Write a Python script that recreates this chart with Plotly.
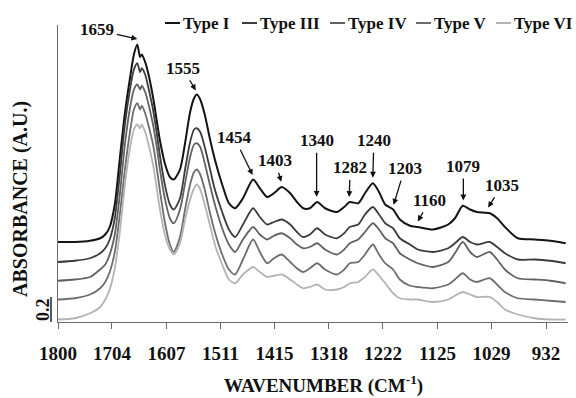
import numpy as np
import plotly.graph_objects as go

# ---------------- data ----------------
wavenumber = [1800, 1770, 1743, 1725, 1716, 1708, 1699, 1690, 1681, 1672,
              1665, 1659, 1654, 1651, 1645, 1640, 1631, 1624, 1619, 1610,
              1601, 1594, 1583, 1574, 1565, 1558, 1553, 1547, 1539, 1530,
              1521, 1508, 1496, 1485, 1471, 1453, 1441, 1428, 1416, 1402,
              1387, 1375, 1364, 1352, 1339, 1325, 1304, 1291, 1281, 1266,
              1254, 1240, 1229, 1218, 1204, 1192, 1174, 1160, 1133, 1106,
              1094, 1080, 1067, 1055, 1032, 1019, 1005, 982, 952, 925,
              897]

type_i = [0.64, 0.64, 0.65, 0.67, 0.70, 0.76, 0.94, 1.31, 1.67, 1.95,
          2.14, 2.22, 2.12, 2.14, 2.08, 2.00, 1.80, 1.60, 1.46, 1.27,
          1.16, 1.14, 1.22, 1.43, 1.68, 1.79, 1.82, 1.78, 1.66, 1.47,
          1.30, 1.10, 0.95, 0.91, 0.99, 1.14, 1.07, 1.00, 1.03, 1.08,
          1.03, 0.96, 0.91, 0.91, 0.96, 0.91, 0.88, 0.92, 0.96, 0.95,
          1.03, 1.11, 1.04, 0.94, 0.90, 0.82, 0.77, 0.76, 0.74, 0.78,
          0.83, 0.93, 0.90, 0.88, 0.87, 0.83, 0.76, 0.67, 0.66, 0.65,
          0.63]

type_iii = [0.48, 0.49, 0.51, 0.55, 0.59, 0.66, 0.83, 1.18, 1.58, 1.86,
            2.02, 2.07, 2.00, 2.03, 1.98, 1.89, 1.70, 1.50, 1.34, 1.10,
            0.94, 0.90, 0.99, 1.22, 1.44, 1.54, 1.55, 1.52, 1.40, 1.23,
            1.06, 0.88, 0.74, 0.68, 0.78, 0.91, 0.84, 0.78, 0.80, 0.82,
            0.78, 0.72, 0.68, 0.70, 0.75, 0.70, 0.67, 0.71, 0.76, 0.78,
            0.86, 0.92, 0.86, 0.79, 0.75, 0.67, 0.62, 0.58, 0.56, 0.59,
            0.63, 0.68, 0.64, 0.62, 0.64, 0.60, 0.55, 0.50, 0.50, 0.49,
            0.47]

type_iv = [0.33, 0.34, 0.36, 0.42, 0.46, 0.54, 0.70, 1.02, 1.42, 1.71,
           1.86, 1.90, 1.86, 1.89, 1.84, 1.76, 1.58, 1.39, 1.23, 0.99,
           0.83, 0.79, 0.90, 1.11, 1.32, 1.42, 1.43, 1.40, 1.27, 1.10,
           0.94, 0.75, 0.62, 0.56, 0.66, 0.76, 0.70, 0.66, 0.69, 0.71,
           0.67, 0.62, 0.59, 0.60, 0.63, 0.58, 0.54, 0.58, 0.63, 0.66,
           0.72, 0.79, 0.74, 0.67, 0.63, 0.55, 0.50, 0.47, 0.44, 0.48,
           0.55, 0.64, 0.56, 0.52, 0.56, 0.50, 0.42, 0.35, 0.34, 0.33,
           0.31]

type_v = [0.18, 0.19, 0.22, 0.27, 0.32, 0.40, 0.56, 0.86, 1.22, 1.52,
          1.70, 1.75, 1.70, 1.73, 1.67, 1.59, 1.42, 1.22, 1.06, 0.80,
          0.62, 0.56, 0.68, 0.90, 1.10, 1.20, 1.22, 1.18, 1.06, 0.88,
          0.72, 0.54, 0.42, 0.38, 0.50, 0.66, 0.56, 0.47, 0.51, 0.54,
          0.48, 0.43, 0.40, 0.43, 0.47, 0.42, 0.38, 0.42, 0.47, 0.48,
          0.54, 0.62, 0.54, 0.47, 0.42, 0.34, 0.29, 0.28, 0.27, 0.30,
          0.34, 0.39, 0.34, 0.32, 0.35, 0.30, 0.24, 0.19, 0.18, 0.17,
          0.16]

type_vi = [0.02, 0.03, 0.07, 0.12, 0.18, 0.26, 0.43, 0.72, 1.10, 1.39,
           1.54, 1.58, 1.55, 1.58, 1.52, 1.44, 1.26, 1.06, 0.91, 0.70,
           0.58, 0.54, 0.63, 0.82, 0.98, 1.07, 1.10, 1.06, 0.94, 0.78,
           0.62, 0.46, 0.34, 0.31, 0.38, 0.44, 0.40, 0.36, 0.37, 0.38,
           0.34, 0.30, 0.27, 0.28, 0.30, 0.26, 0.26, 0.28, 0.31, 0.32,
           0.36, 0.42, 0.37, 0.31, 0.23, 0.19, 0.18, 0.18, 0.16, 0.18,
           0.21, 0.24, 0.22, 0.20, 0.20, 0.16, 0.10, 0.06, 0.03, 0.02,
           0.02]

series_names = ["Type I", "Type III", "Type IV", "Type V", "Type VI"]
tick_values = [1800, 1704, 1607, 1511, 1415, 1318, 1222, 1125, 1029, 932]
peak_labels = [1659, 1555, 1454, 1403, 1340, 1282, 1240, 1203, 1160, 1079, 1035]
scale_bar_value = 0.2

# ---------------- styles ----------------
W, H = 576, 398
L, R, T, B = 58, 8, 25, 76
PW, PH = W - L - R, H - T - B

colors = ["#141414", "#3c3c3c", "#626262", "#6e6e6e", "#b4b4b4"]
widths = [2.0, 1.8, 1.8, 1.8, 1.8]
FONT = "Liberation Serif"

# label offsets (pixels, text centre relative to arrow tip)
label_offsets = [(-40, -9), (-13, -22), (-18, -37), (-6, -21), (0, -56), (1, -29),
                 (1, -37), (11, -36), (12, -21), (0, -34), (14, -22)]


def px(x):
    return (x - L) / PW


def py(y):
    return (H - B - y) / PH


fig = go.Figure()
all_series = [type_i, type_iii, type_iv, type_v, type_vi]
for name, vals, c, w in zip(series_names, all_series, colors, widths):
    fig.add_trace(go.Scatter(
        x=wavenumber, y=vals, mode="lines", name=name,
        line=dict(color=c, width=w, shape="spline", smoothing=0.7),
        showlegend=False, hoverinfo="skip"))

annotations = []
shapes = []

# peak labels with arrows, pointing at the Type I curve
wn_asc = np.array(wavenumber[::-1], dtype=float)
t1_asc = np.array(type_i[::-1], dtype=float)
for lab, (ax, ay) in zip(peak_labels, label_offsets):
    ytip = float(np.interp(lab, wn_asc, t1_asc)) + 0.045
    annotations.append(dict(
        x=lab, y=ytip, xref="x", yref="y", text=str(lab),
        showarrow=True, arrowhead=2, arrowsize=0.9, arrowwidth=1.3,
        arrowcolor="#111", ax=ax, ay=ay, axref="pixel", ayref="pixel",
        standoff=0, startstandoff=1,
        font=dict(family=FONT, size=17, color="#111", weight="bold")))

# custom legend
legend_x = [165, 242, 330, 416, 496]
legend_y = 23
for name, c, x0 in zip(series_names, colors, legend_x):
    shapes.append(dict(type="line", xref="paper", yref="paper",
                       x0=px(x0), x1=px(x0 + 15), y0=py(legend_y), y1=py(legend_y),
                       line=dict(color=c, width=2)))
    annotations.append(dict(x=px(x0 + 16), y=py(legend_y), xref="paper", yref="paper",
                            text=name, showarrow=False, xanchor="left", yanchor="middle",
                            font=dict(family=FONT, size=17, color="#111", weight="bold")))

# scale bar "0.2"
shapes.append(dict(type="line", xref="paper", yref="y",
                   x0=px(51), x1=px(51), y0=0, y1=scale_bar_value,
                   line=dict(color="#222", width=1.5)))
annotations.append(dict(x=px(43), y=py(310), xref="paper", yref="paper",
                        text=str(scale_bar_value), showarrow=False, textangle=-90,
                        xanchor="center", yanchor="middle",
                        font=dict(family=FONT, size=18, color="#111", weight="bold")))

# axis titles
annotations.append(dict(x=px(20), y=py(199), xref="paper", yref="paper",
                        text="ABSORBANCE (A.U.)", showarrow=False, textangle=-90,
                        xanchor="center", yanchor="middle",
                        font=dict(family=FONT, size=20, color="#111", weight="bold")))
annotations.append(dict(x=px(323), y=py(384), xref="paper", yref="paper",
                        text="WAVENUMBER (CM<sup>-1</sup>)", showarrow=False,
                        xanchor="center", yanchor="middle",
                        font=dict(family=FONT, size=19, color="#111", weight="bold")))

fig.update_layout(
    width=W, height=H,
    margin=dict(l=L, r=R, t=T, b=B, pad=0),
    paper_bgcolor="white", plot_bgcolor="white",
    showlegend=False,
    annotations=annotations, shapes=shapes,
    xaxis=dict(range=[1800, 1800 - PW * 1.7787], showline=True, linecolor="#6a6a6a",
               linewidth=1.3, ticks="outside", ticklen=6, tickcolor="#6a6a6a",
               tickwidth=1.3, tickvals=tick_values, ticktext=[str(v) for v in tick_values],
               tickfont=dict(family=FONT, size=19, color="#111", weight="bold"),
               ticklabelstandoff=8, showgrid=False, zeroline=False),
    yaxis=dict(range=[0, PH / 125.0], showline=True, linecolor="#6a6a6a", linewidth=1.3,
               showticklabels=False, ticks="", showgrid=False, zeroline=False),
)

fig.write_html("out.html")
